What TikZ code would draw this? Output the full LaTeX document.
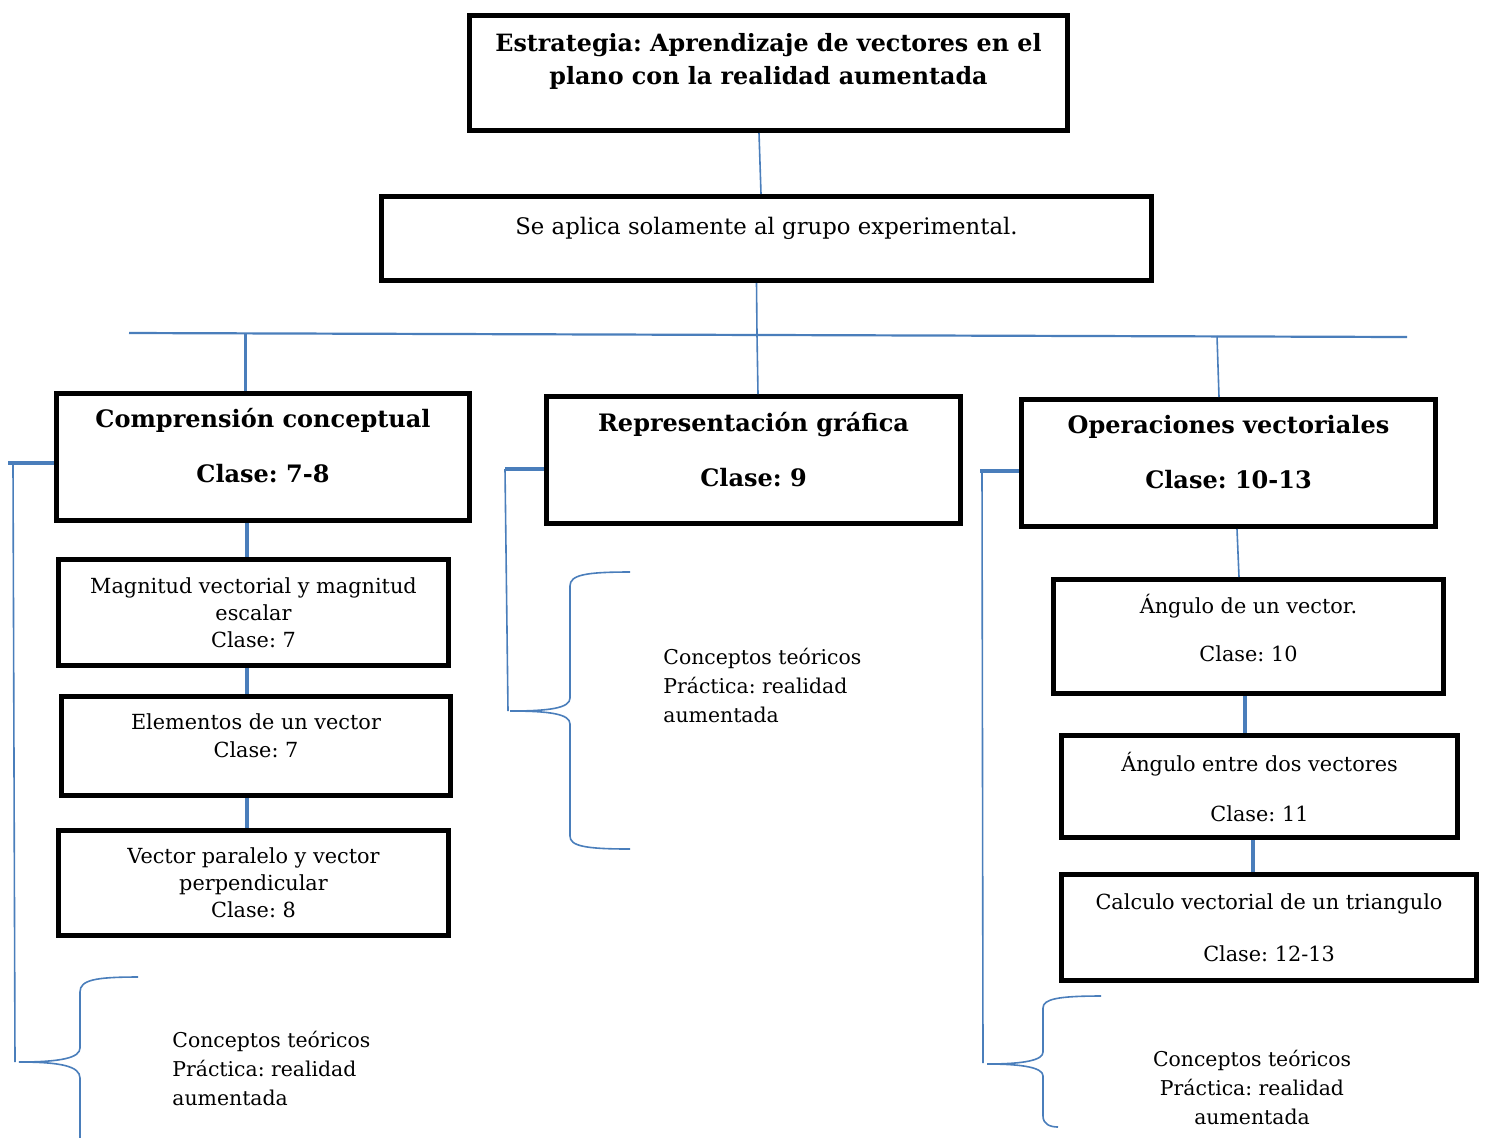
\documentclass[tikz,border=0pt]{standalone}
\usepackage{fontspec}
\setmainfont{DejaVu Serif}
\usepackage{tikz}
\usetikzlibrary{
  calc,
  positioning,
}
\tikzstyle{box} = [
  rectangle,
  draw,
  line width=2.5pt,
  inner sep=0pt,
]
\tikzstyle{link} = [
  draw=linkblue,
  line width=0.8pt,
]
\tikzstyle{thicklink} = [
  draw=linkblue,
  line width=2pt,
]
\tikzstyle{note} = [
  align=left,
  inner sep=0pt,
  font=\fontsize{10.2}{14.5}\selectfont,
]
\definecolor{linkblue}{RGB}{74, 126, 187}
\frenchspacing
% width, height, lift, text
\newcommand{\boxtext}[4]{\parbox[c][#2][c]{#1}{\centering #4\par\vspace{#3}}}
\newcommand{\headfont}{\bfseries\fontsize{12}{27.5}\selectfont}

\begin{document}
\begin{tikzpicture}[x=0.5pt,y=-0.5pt]
\useasboundingbox (0,0) rectangle (1487,1137);

% top of the tree
\node[box] (estr) at (768.5,73) {\boxtext{299pt}{57.5pt}{12pt}{\bfseries\fontsize{11.9}{16.5}\selectfont Estrategia: Aprendizaje de vectores en el\\plano con la realidad aumentada}};
\node[box] (apply) at (766.5,238.5) {\boxtext{385pt}{42pt}{10pt}{\fontsize{11.4}{14}\selectfont Se aplica solamente al grupo experimental.}};

% the three branches
\node[box] (cc) at (263,457) {\boxtext{206.5pt}{63.5pt}{11pt}{\headfont Comprensión conceptual\\Clase: 7-8}};
\node[box] (rg) at (753.5,460) {\boxtext{207pt}{63.5pt}{10pt}{\headfont Representación gráfica\\Clase: 9}};
\node[box] (ov) at (1228.5,463) {\boxtext{207pt}{63.5pt}{11pt}{\headfont Operaciones vectoriales\\Clase: 10-13}};

% left column
\node[box] (mag) at (253.5,612.5) {\boxtext{195pt}{53pt}{0pt}{\fontsize{10.4}{13.5}\selectfont Magnitud vectorial y magnitud\\escalar\\Clase: 7}};
\node[box] (ele) at (256,746) {\boxtext{194.5pt}{49.5pt}{10pt}{\fontsize{10.4}{14}\selectfont Elementos de un vector\\Clase: 7}};
\node[box] (par) at (253.5,883) {\boxtext{195pt}{52.5pt}{0pt}{\fontsize{10.4}{13.5}\selectfont Vector paralelo y vector\\perpendicular\\Clase: 8}};

% right column
\node[box] (ang1) at (1248.5,636.5) {\boxtext{195pt}{57pt}{9pt}{\fontsize{10.4}{24}\selectfont Ángulo de un vector.\\Clase: 10}};
\node[box] (ang2) at (1259.5,786.5) {\boxtext{198pt}{51pt}{0pt}{\fontsize{10.4}{25}\selectfont Ángulo entre dos vectores\\Clase: 11}};
\node[box] (calc) at (1269,927.5) {\boxtext{207.5pt}{53pt}{0pt}{\fontsize{10.4}{26}\selectfont Calculo vectorial de un triangulo\\Clase: 12-13}};

% notes
\node[note, anchor=west] (n1) at (172,1068) {Conceptos teóricos\\Práctica: realidad\\aumentada};
\node[note, anchor=west] (n2) at (663,685) {Conceptos teóricos\\Práctica: realidad\\aumentada};
\node[note, align=center] (n3) at (1252,1087) {Conceptos teóricos\\Práctica: realidad\\aumentada};

% bus line
\coordinate (busL) at (129,333);
\coordinate (busR) at (1407,337);
\coordinate (j1) at (245,334);
\coordinate (j2) at (757,335);
\coordinate (j3) at (1217,336);
\draw[link, line width=1.1pt] (busL) -- (busR);

\draw[link] ([xshift=-4.75pt]estr.south) -- ([xshift=-2.75pt]apply.north);
\draw[link] ([xshift=-5pt]apply.south) -- (j2);
\draw[thicklink, line width=1.5pt] (j1) -- ([xshift=-9pt]cc.north);
\draw[link] (j2) -- ([xshift=2.25pt]rg.north);
\draw[link] (j3) -- ([xshift=-4.75pt]ov.north);

\draw[thicklink] ([xshift=-8pt]cc.south) -- ([xshift=-3.25pt]mag.north);
\draw[thicklink] ([xshift=-3.25pt]mag.south) -- ([xshift=-4.5pt]ele.north);
\draw[thicklink] ([xshift=-4.5pt]ele.south) -- ([xshift=-3.25pt]par.north);

\draw[link] ([xshift=4.25pt]ov.south) -- ([xshift=-4.75pt]ang1.north);
\draw[thicklink] ([xshift=-1.75pt]ang1.south) -- ([xshift=-7.25pt]ang2.north);
\draw[thicklink] ([xshift=-3.25pt]ang2.south) -- ([xshift=-8pt]calc.north);

% left brace
\coordinate (s1) at (13,463);
\coordinate (tip1) at (19,1062);
\draw[thicklink] ([yshift=-3pt]cc.west) -- (8,463);
\draw[link] (s1) -- (15,1062);
\draw[link] (138,977) .. controls (95,977) and (80,980) .. (80,992) -- (80,1048) .. controls (80,1058) and (60,1062) .. (tip1);
\draw[link] (tip1) .. controls (60,1062) and (80,1066) .. (80,1078) -- (80,1140);

% middle brace
\coordinate (s2) at (505,469);
\coordinate (tip2) at (510,711);
\draw[thicklink] ([yshift=-4.5pt]rg.west) -- (s2);
\draw[link] (s2) -- (508,711);
\draw[link] (630,572) .. controls (585,572) and (570,575) .. (570,586) -- (570,698) .. controls (570,708) and (550,711) .. (tip2);
\draw[link] (tip2) .. controls (550,711) and (570,714) .. (570,724) -- (570,836) .. controls (570,846) and (585,849) .. (630,849);

% right brace
\coordinate (s3) at (982,471);
\coordinate (tip3) at (987,1064);
\draw[thicklink] ([yshift=-4pt]ov.west) -- (980,471);
\draw[link] (s3) -- (983,1063);
\draw[link] (1101,996) .. controls (1058,996) and (1043,999) .. (1043,1008) -- (1043,1052) .. controls (1043,1060) and (1025,1064) .. (tip3);
\draw[link] (tip3) .. controls (1025,1064) and (1043,1068) .. (1043,1076) -- (1043,1116) .. controls (1043,1124) and (1050,1127) .. (1058,1127);
\end{tikzpicture}
\end{document}
